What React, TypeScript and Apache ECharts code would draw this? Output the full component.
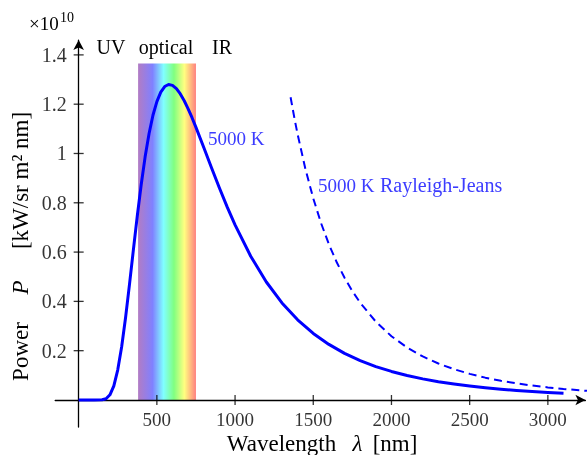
import React, { useEffect, useRef } from "react";
import * as echarts from "echarts";

// Black-body spectrum at 5000 K (units of 1e10 kW / sr m^2 nm)
const wavelengths = [
  0, 100, 150, 175, 200, 225, 250, 275, 300, 325, 350, 375, 400, 425, 450, 475,
  500, 525, 550, 575, 600, 625, 650, 675, 700, 725, 750, 800, 850, 900, 950,
  1000, 1100, 1200, 1300, 1400, 1500, 1600, 1700, 1800, 1900, 2000, 2100, 2200,
  2300, 2400, 2500, 2600, 2700, 2800, 2900, 3000, 3100,
];
const planck5000 = [
  0, 0, 0.0007, 0.0052, 0.021, 0.0576, 0.1223, 0.2162, 0.3347, 0.4692, 0.6097,
  0.7473, 0.8744, 0.9864, 1.0801, 1.155, 1.2106, 1.2492, 1.2716, 1.28, 1.2764,
  1.2631, 1.2414, 1.214, 1.181, 1.1451, 1.106, 1.024, 0.941, 0.8597, 0.7824,
  0.7103, 0.5832, 0.4787, 0.3938, 0.3253, 0.27, 0.2254, 0.1892, 0.1598, 0.1356,
  0.1158, 0.0993, 0.0857, 0.0742, 0.0646, 0.0564, 0.0495, 0.0436, 0.0386,
  0.0342, 0.0305, 0.0272,
];

// Rayleigh-Jeans approximation at 5000 K
const rjWavelengths = [
  1355, 1380, 1400, 1450, 1500, 1550, 1600, 1650, 1700, 1750, 1800, 1900, 2000,
  2100, 2200, 2300, 2400, 2500, 2600, 2700, 2800, 2900, 3000, 3100, 3200, 3250,
];
const rayleighJeans5000 = [
  1.2281, 1.1415, 1.0776, 0.9365, 0.8178, 0.7172, 0.6317, 0.5586, 0.4957,
  0.4414, 0.3944, 0.3177, 0.2587, 0.2129, 0.1767, 0.1479, 0.1248, 0.106,
  0.0906, 0.0779, 0.0674, 0.0585, 0.0511, 0.0448, 0.0395, 0.0371,
];

const xTickValues = [500, 1000, 1500, 2000, 2500, 3000];
const yTickValues = [0.2, 0.4, 0.6, 0.8, 1, 1.2, 1.4];

// Optical window shaded behind the curves
const opticalBand = [380, 750];
const opticalBandTop = 1.365;

const FONT = "'Liberation Serif', 'DejaVu Serif', serif";
const BLUE = "#0000ff";
const LABEL_BLUE = "#3c3cff";

type TextOpts = {
  x: number;
  y: number;
  text: string;
  size: number;
  color?: string;
  italic?: boolean;
  align?: "left" | "center" | "right";
  rotation?: number;
};

const text = ({ x, y, text, size, color = "#000", italic, align = "center", rotation }: TextOpts) => ({
  type: "text",
  x,
  y,
  rotation: rotation ?? 0,
  silent: true,
  style: {
    text,
    font: `${italic ? "italic " : ""}${size}px ${FONT}`,
    fill: color,
    textAlign: align,
    textVerticalAlign: "middle",
  },
});

export default function App() {
  const ref = useRef<HTMLDivElement>(null);

  useEffect(() => {
    if (!ref.current) return;
    const chart = echarts.init(ref.current, null, { renderer: "svg" });

    const planckData = wavelengths.map((w, i) => [w, planck5000[i]]);
    const rjData = rjWavelengths.map((w, i) => [w, rayleighJeans5000[i]]);

    const spectrum = new echarts.graphic.LinearGradient(0, 0, 1, 0, [
      { offset: 0, color: "#b27cc4" },
      { offset: 0.25, color: "#8080ff" },
      { offset: 0.44, color: "#80ffff" },
      { offset: 0.62, color: "#80ff80" },
      { offset: 0.8, color: "#ffff80" },
      { offset: 1, color: "#ff8080" },
    ]);

    const axisLine = {
      onZero: true,
      symbol: ["none", "arrow"],
      symbolSize: [8, 10],
      lineStyle: { color: "#000", width: 1.3 },
    };

    chart.setOption({
      animation: false,
      grid: { left: 55.2, right: 1.6, top: 40.1, bottom: 27.9 },
      xAxis: {
        type: "value",
        min: -150,
        max: 3240,
        z: 1,
        axisLine,
        axisTick: { show: false },
        splitLine: { show: false },
        axisLabel: { show: false },
      },
      yAxis: {
        type: "value",
        min: -0.11,
        max: 1.46,
        z: 1,
        axisLine,
        axisTick: { show: false },
        splitLine: { show: false },
        axisLabel: { show: false },
      },
      series: [
        {
          type: "line",
          name: "optical",
          data: [],
          z: 0,
          silent: true,
          markArea: {
            silent: true,
            itemStyle: { color: spectrum, opacity: 1 },
            data: [
              [
                { coord: [opticalBand[0], 0] },
                { coord: [opticalBand[1], opticalBandTop] },
              ],
            ],
          },
        },
        {
          // tick marks crossing the wavelength axis, with their labels
          type: "scatter",
          name: "xticks",
          z: 2,
          silent: true,
          symbol: "rect",
          symbolSize: [1.3, 10],
          itemStyle: { color: "#000" },
          label: {
            show: true,
            position: "bottom",
            distance: 5,
            color: "#000",
            fontFamily: FONT,
            fontSize: 19,
            formatter: (p: any) => String(p.value[0]),
          },
          data: xTickValues.map((v) => [v, 0]),
        },
        {
          // tick marks crossing the power axis, with their labels
          type: "scatter",
          name: "yticks",
          z: 2,
          silent: true,
          symbol: "rect",
          symbolSize: [10, 1.3],
          itemStyle: { color: "#000" },
          label: {
            show: true,
            position: "left",
            distance: 7,
            color: "#000",
            fontFamily: FONT,
            fontSize: 20,
            formatter: (p: any) => String(p.value[1]),
          },
          data: yTickValues.map((v) => [0, v]),
        },
        {
          type: "line",
          name: "5000 K",
          z: 3,
          data: planckData,
          showSymbol: false,
          lineStyle: { color: BLUE, width: 3, join: "round" },
        },
        {
          type: "line",
          name: "5000 K Rayleigh-Jeans",
          z: 3,
          clip: false,
          data: rjData,
          showSymbol: false,
          lineStyle: { color: BLUE, width: 2, type: [8, 5] },
        },
      ],
      graphic: [
        text({ x: 29, y: 23, text: "×10", size: 19, align: "left" }),
        text({ x: 60, y: 17, text: "10", size: 14, align: "left" }),
        text({ x: 111, y: 47, text: "UV", size: 20 }),
        text({ x: 166, y: 47, text: "optical", size: 20 }),
        text({ x: 222, y: 47, text: "IR", size: 20 }),
        text({ x: 208, y: 138, text: "5000 K", size: 19, color: LABEL_BLUE, align: "left" }),
        text({ x: 318, y: 185, text: "5000 K", size: 19, color: LABEL_BLUE, align: "left" }),
        text({ x: 380, y: 185, text: "Rayleigh-Jeans", size: 20, color: LABEL_BLUE, align: "left" }),
        // wavelength axis title
        text({ x: 281.5, y: 443, text: "Wavelength", size: 23 }),
        text({ x: 357.5, y: 443, text: "λ", size: 23, italic: true }),
        text({ x: 395, y: 443, text: "[nm]", size: 23 }),
        // power axis title, reading upwards
        text({ x: 20, y: 351.5, text: "Power", size: 23, rotation: Math.PI / 2 }),
        text({ x: 20, y: 287.5, text: "P", size: 23, italic: true, rotation: Math.PI / 2 }),
        text({ x: 20, y: 180.5, text: "[kW/sr m² nm]", size: 23, rotation: Math.PI / 2 }),
      ],
    });

    return () => chart.dispose();
  }, []);

  return (
    <div
      ref={ref}
      style={{ position: "fixed", left: 0, top: 0, width: 587, height: 455 }}
    />
  );
}
